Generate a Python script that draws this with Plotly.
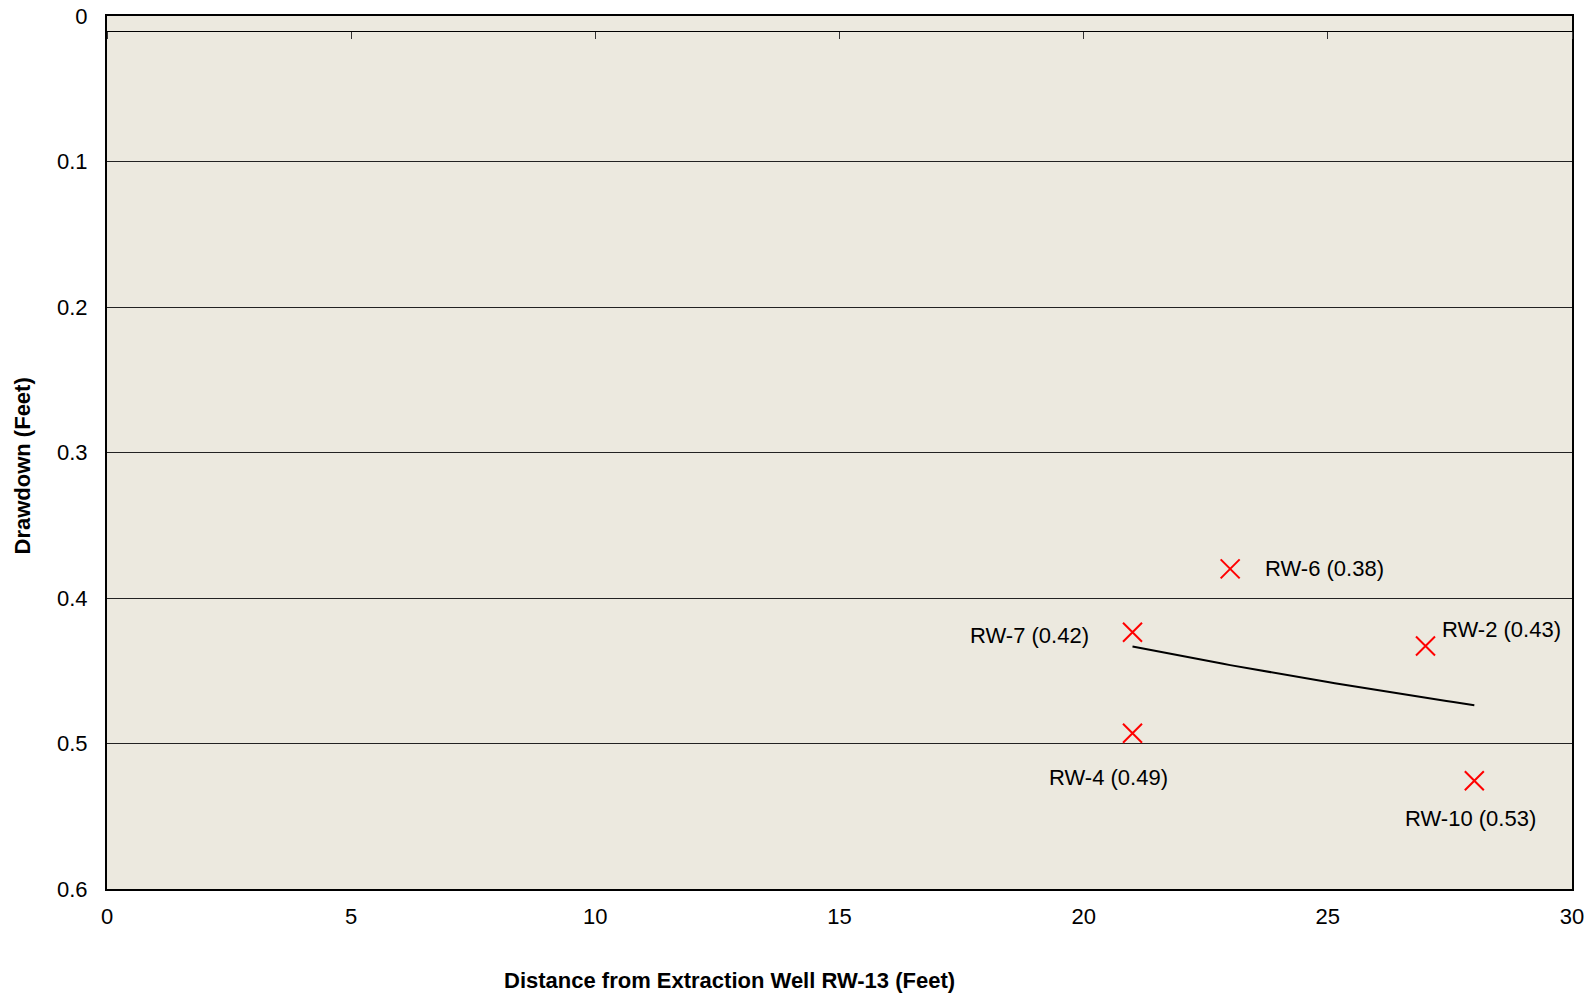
import numpy as np
import plotly.graph_objects as go

# Data
wells = ["RW-6", "RW-7", "RW-2", "RW-4", "RW-10"]
distance_ft = [23, 21, 27, 21, 28]
drawdown_ft = [0.380, 0.4235, 0.433, 0.493, 0.5256]
label_vals = ["0.38", "0.42", "0.43", "0.49", "0.53"]

x_ticks = [0, 5, 10, 15, 20, 25, 30]
y_ticks = [0, 0.1, 0.2, 0.3, 0.4, 0.5, 0.6]

# Label placement (style, pixels)
label_style = {
    "RW-6": dict(xanchor="left", yanchor="middle", xshift=33, yshift=0),
    "RW-7": dict(xanchor="right", yanchor="middle", xshift=-42, yshift=-3),
    "RW-2": dict(xanchor="left", yanchor="middle", xshift=14, yshift=17),
    "RW-4": dict(xanchor="center", yanchor="middle", xshift=-24, yshift=-44),
    "RW-10": dict(xanchor="center", yanchor="middle", xshift=-4, yshift=-38),
}

# Logarithmic trendline (least squares of drawdown on ln(distance))
b, a = np.polyfit(np.log(distance_ft), drawdown_ft, 1)
tx = np.linspace(min(distance_ft), max(distance_ft), 50)
ty = a + b * np.log(tx)

FONT = "Liberation Sans, Arial, sans-serif"
BG = "rgb(236,233,223)"

fig = go.Figure()
fig.add_trace(go.Scatter(
    x=tx, y=ty, mode="lines", line=dict(color="black", width=2),
    hoverinfo="skip", showlegend=False, xaxis="x2", yaxis="y",
))
fig.add_trace(go.Scatter(
    x=distance_ft, y=drawdown_ft, mode="markers",
    marker=dict(symbol="x-thin-open", size=19, color="red",
                line=dict(color="red", width=2)),
    text=wells, showlegend=False,
))

for w, xv, yv, lv in zip(wells, distance_ft, drawdown_ft, label_vals):
    st = label_style[w]
    fig.add_annotation(
        x=xv, y=yv, xref="x", yref="y", text=f"{w} ({lv})", showarrow=False,
        font=dict(family=FONT, size=22, color="black"), **st,
    )

fig.add_annotation(
    x=0.4246, y=0, xref="paper", yref="paper", yshift=-91, yanchor="middle",
    xanchor="center",
    text="<b>Distance from Extraction Well RW-13 (Feet)</b>", showarrow=False,
    font=dict(family=FONT, size=22, color="black"),
)
fig.add_annotation(
    x=0, y=0.484, xref="paper", yref="paper", xshift=-85, xanchor="center",
    yanchor="middle",
    text="<b>Drawdown (Feet)</b>", showarrow=False, textangle=-90,
    font=dict(family=FONT, size=22, color="black"),
)

fig.update_layout(
    width=1596, height=997,
    margin=dict(l=107, r=24, t=16, b=108, autoexpand=False),
    paper_bgcolor="white", plot_bgcolor=BG,
    font=dict(family=FONT, size=22, color="black"),
    xaxis=dict(
        range=[0, 30], tickvals=x_ticks, ticktext=[str(v) for v in x_ticks],
        showgrid=False, zeroline=False, showline=True, linecolor="black",
        linewidth=2, mirror=True, ticks="", ticklabelstandoff=7,
        tickfont=dict(size=22), automargin=False,
    ),
    xaxis2=dict(
        range=[0, 30], overlaying="x", anchor="free",
        position=1 - 0.01 / 0.6, side="bottom", tickvals=x_ticks,
        showticklabels=False, showgrid=False, zeroline=False,
        showline=True, linecolor="black", linewidth=1,
        ticks="outside", ticklen=7, tickcolor="#333", tickwidth=1,
        automargin=False,
    ),
    yaxis=dict(
        range=[0.6, 0], tickvals=y_ticks, ticktext=[f"{v:g}" for v in y_ticks],
        showgrid=True, gridcolor="#222", gridwidth=1, zeroline=False,
        showline=True, linecolor="black", linewidth=2, mirror=True,
        ticks="", ticklabelstandoff=13, tickfont=dict(size=22),
        automargin=False,
    ),
)

fig.write_html(
    "out.html",
    config={"displayModeBar": False},
    post_script="document.body.style.margin='0';document.body.style.overflow='hidden';",
)
